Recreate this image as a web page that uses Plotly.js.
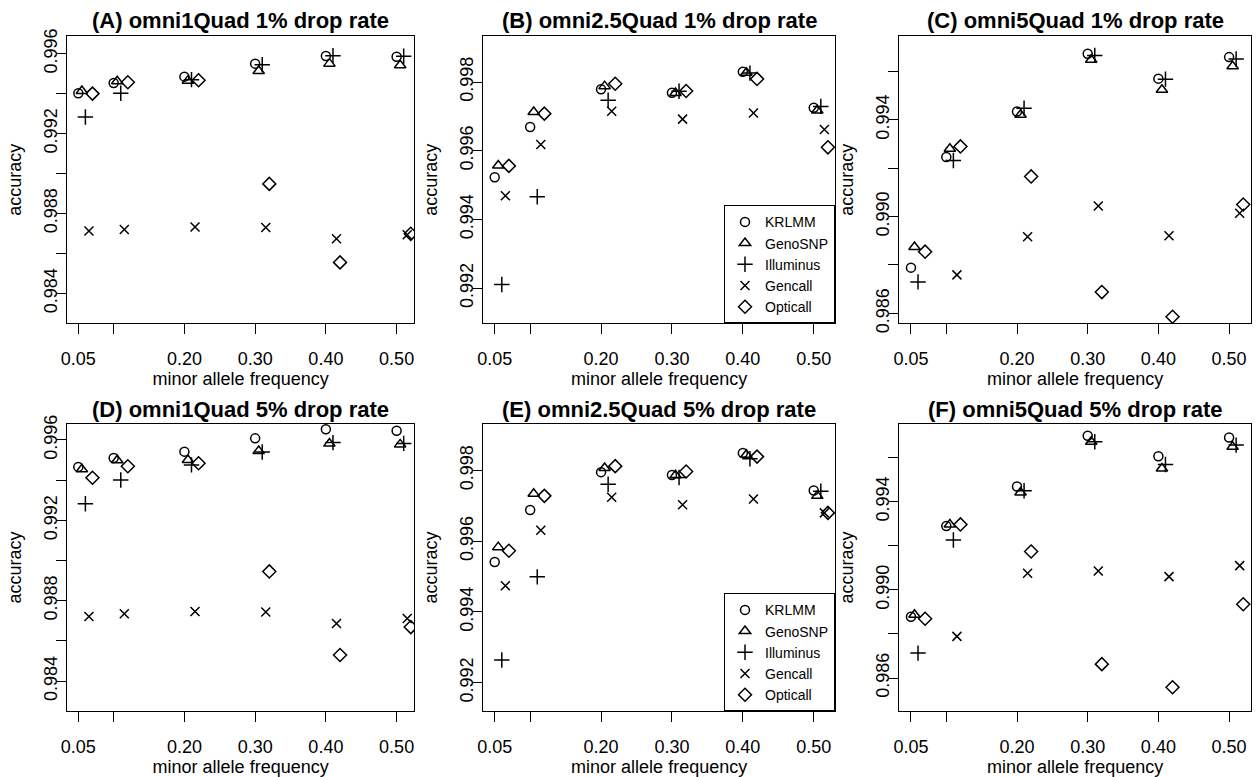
<!DOCTYPE html>
<html>
<head>
<meta charset="utf-8">
<script src="https://cdn.plot.ly/plotly-3.0.1.min.js"></script>
<style>html,body{margin:0;padding:0;background:#fff}#chart{width:1257px;height:777px}</style>
</head>
<body>
<div id="chart"></div>
<script>
// ---- data ----
const maf = [0.05, 0.10, 0.20, 0.30, 0.40, 0.50];
const methods = ["KRLMM", "GenoSNP", "Illuminus", "Gencall", "Opticall"];
const methodOffset = [0, 0.005, 0.010, 0.015, 0.020]; // horizontal jitter used in the original figure
const panelTitles = [
  "(A) omni1Quad 1% drop rate", "(B) omni2.5Quad 1% drop rate", "(C) omni5Quad 1% drop rate",
  "(D) omni1Quad 5% drop rate", "(E) omni2.5Quad 5% drop rate", "(F) omni5Quad 5% drop rate"
];
const xTickVals = [0.05, 0.10, 0.20, 0.30, 0.40, 0.50];
const xTickText = ["0.05", "", "0.20", "0.30", "0.40", "0.50"];

// Panel A: omni1Quad 1%
const A_KRLMM     = [0.99402, 0.99453, 0.99485, 0.99550, 0.99588, 0.99585];
const A_GenoSNP   = [0.99413, 0.99462, 0.99465, 0.99513, 0.99550, 0.99542];
const A_Illuminus = [0.99283, 0.99402, 0.99470, 0.99545, 0.99590, 0.99587];
const A_Gencall   = [0.98712, 0.98720, 0.98732, 0.98730, 0.98673, 0.98693];
const A_Opticall  = [0.99400, 0.99457, 0.99467, 0.98948, 0.98555, 0.98698];
// Panel B: omni2.5Quad 1%
const B_KRLMM     = [0.99523, 0.99669, 0.99779, 0.99769, 0.99830, 0.99725];
const B_GenoSNP   = [0.99557, 0.99713, 0.99788, 0.99768, 0.99827, 0.99717];
const B_Illuminus = [0.99211, 0.99466, 0.99747, 0.99773, 0.99826, 0.99729];
const B_Gencall   = [0.99469, 0.99618, 0.99715, 0.99692, 0.99710, 0.99662];
const B_Opticall  = [0.99556, 0.99708, 0.99795, 0.99774, 0.99809, 0.99610];
// Panel C: omni5Quad 1%
const C_KRLMM     = [0.98789, 0.99246, 0.99434, 0.99673, 0.99570, 0.99659];
const C_GenoSNP   = [0.98874, 0.99280, 0.99421, 0.99648, 0.99524, 0.99621];
const C_Illuminus = [0.98730, 0.99232, 0.99448, 0.99666, 0.99568, 0.99651];
const C_Gencall   = [null,    0.98759, 0.98917, 0.99044, 0.98921, 0.99014];
const C_Opticall  = [0.98855, 0.99290, 0.99166, 0.98688, 0.98586, 0.99050];
// Panel D: omni1Quad 5%
const D_KRLMM     = [0.99466, 0.99510, 0.99542, 0.99608, 0.99653, 0.99646];
const D_GenoSNP   = [0.99454, 0.99499, 0.99500, 0.99545, 0.99582, 0.99578];
const D_Illuminus = [0.99283, 0.99401, 0.99476, 0.99540, 0.99587, 0.99583];
const D_Gencall   = [0.98722, 0.98735, 0.98747, 0.98744, 0.98687, 0.98712];
const D_Opticall  = [0.99412, 0.99469, 0.99484, 0.98946, 0.98530, 0.98669];
// Panel E: omni2.5Quad 5%
const E_KRLMM     = [0.99541, 0.99688, 0.99795, 0.99787, 0.99849, 0.99743];
const E_GenoSNP   = [0.99583, 0.99734, 0.99807, 0.99786, 0.99844, 0.99728];
const E_Illuminus = [0.99264, 0.99499, 0.99761, 0.99780, 0.99833, 0.99741];
const E_Gencall   = [0.99474, 0.99631, 0.99724, 0.99703, 0.99719, 0.99680];
const E_Opticall  = [0.99573, 0.99728, 0.99812, 0.99797, 0.99839, 0.99680];
// Panel F: omni5Quad 5%
const F_KRLMM     = [0.98878, 0.99290, 0.99469, 0.99699, 0.99606, 0.99691];
const F_GenoSNP   = [0.98887, 0.99297, 0.99442, 0.99672, 0.99551, 0.99649];
const F_Illuminus = [0.98713, 0.99226, 0.99450, 0.99672, 0.99569, 0.99657];
const F_Gencall   = [null,    0.98789, 0.99075, 0.99086, 0.99060, 0.99110];
const F_Opticall  = [0.98869, 0.99297, 0.99174, 0.98663, 0.98558, 0.98935];

// y tick sets
const yTicksA = [0.984, 0.986, 0.988, 0.990, 0.992, 0.994, 0.996];
const yTextA  = ["0.984", "", "0.988", "", "0.992", "", "0.996"];
const yTicksB = [0.992, 0.994, 0.996, 0.998];
const yTextB  = ["0.992", "0.994", "0.996", "0.998"];
const yTicksC = [0.986, 0.988, 0.990, 0.992, 0.994, 0.996];
const yTextC  = ["0.986", "", "0.990", "", "0.994", ""];

// ---- build ----
const panelSeries = [
  [A_KRLMM, A_GenoSNP, A_Illuminus, A_Gencall, A_Opticall],
  [B_KRLMM, B_GenoSNP, B_Illuminus, B_Gencall, B_Opticall],
  [C_KRLMM, C_GenoSNP, C_Illuminus, C_Gencall, C_Opticall],
  [D_KRLMM, D_GenoSNP, D_Illuminus, D_Gencall, D_Opticall],
  [E_KRLMM, E_GenoSNP, E_Illuminus, E_Gencall, E_Opticall],
  [F_KRLMM, F_GenoSNP, F_Illuminus, F_Gencall, F_Opticall]
];
const yRanges = [
  [0.9825, 0.99687], [0.99098, 0.99933], [0.98559, 0.99745],
  [0.9825, 0.99681], [0.99119, 0.99932], [0.98449, 0.99754]
];
const xRanges = [[0.034, 0.525], [0.0339, 0.530], [0.0335, 0.531]];
const yTickSets = [[yTicksA, yTextA], [yTicksB, yTextB], [yTicksC, yTextC],
                   [yTicksA, yTextA], [yTicksB, yTextB], [yTicksC, yTextC]];

const W = 1257, H = 777;
const colPx = [[67, 414.3], [483.3, 835], [899.3, 1251]];
const rowPx = [[36.3, 323.3], [423.7, 711.3]];
const titleY = [21, 409];

const symbols = ["circle-open", "triangle-up-open", "cross-thin-open", "x-thin-open", "diamond-open"];
const sizes = [9, 10, 11, 9, 10];
const FONT = "Liberation Sans, Arial, Helvetica, sans-serif";

const traces = [];
const layout = {
  width: W, height: H,
  margin: {l: 0, r: 0, t: 0, b: 0},
  paper_bgcolor: "#ffffff", plot_bgcolor: "#ffffff",
  font: {family: FONT, color: "#000", size: 16},
  showlegend: true,
  annotations: []
};

for (let p = 0; p < 6; p++) {
  const col = p % 3, row = Math.floor(p / 3);
  const n = p === 0 ? "" : String(p + 1);
  const xa = "x" + n, ya = "y" + n;
  const legendName = p === 1 ? "legend" : (p === 4 ? "legend2" : null);
  for (let m = 0; m < 5; m++) {
    const tr = {
      type: "scatter", mode: "markers",
      x: maf.map(v => v + methodOffset[m]),
      y: panelSeries[p][m],
      name: methods[m],
      xaxis: xa, yaxis: ya,
      cliponaxis: true,
      marker: {symbol: symbols[m], size: sizes[m], color: "#000", line: {color: "#000", width: 1.5}},
      showlegend: legendName !== null,
      hoverinfo: "x+y+name"
    };
    if (legendName) tr.legend = legendName;
    traces.push(tr);
  }
  const xd = [colPx[col][0] / W, colPx[col][1] / W];
  const yd = [1 - rowPx[row][1] / H, 1 - rowPx[row][0] / H];
  layout["xaxis" + n] = {
    domain: xd, anchor: ya, range: xRanges[col],
    showgrid: false, zeroline: false,
    showline: true, mirror: true, linecolor: "#000", linewidth: 1,
    ticks: "outside", ticklen: 10, tickwidth: 1, tickcolor: "#000",
    tickmode: "array", tickvals: xTickVals, ticktext: xTickText,
    tickfont: {size: 18, family: FONT, color: "#000"},
    ticklabelstandoff: 9,
    title: {text: "minor allele frequency", font: {size: 18, family: FONT, color: "#000"}, standoff: 2},
    automargin: false
  };
  layout["yaxis" + n] = {
    domain: yd, anchor: xa, range: yRanges[p],
    showgrid: false, zeroline: false,
    showline: true, mirror: true, linecolor: "#000", linewidth: 1,
    ticks: "outside", ticklen: 10, tickwidth: 1, tickcolor: "#000",
    tickmode: "array", tickvals: yTickSets[p][0], ticktext: yTickSets[p][1],
    tickangle: -90,
    tickfont: {size: 18, family: FONT, color: "#000"},
    ticklabelstandoff: -8,
    title: {text: "accuracy", font: {size: 18, family: FONT, color: "#000"}, standoff: 14},
    automargin: false
  };
  layout.annotations.push({
    xref: "paper", yref: "paper",
    x: (xd[0] + xd[1]) / 2, y: 1 - titleY[row] / H,
    xanchor: "center", yanchor: "middle", showarrow: false,
    text: "<b>" + panelTitles[p] + "</b>",
    font: {size: 22, family: FONT, color: "#000"}
  });
}

const legendCommon = {
  bgcolor: "#ffffff", bordercolor: "#000", borderwidth: 1,
  font: {size: 14, family: FONT, color: "#000"},
  xanchor: "right", yanchor: "bottom",
  itemwidth: 30,
  itemclick: false, itemdoubleclick: false
};
layout.legend = Object.assign({}, legendCommon, {x: 835 / W, y: 1 - 323.3 / H});
layout.legend2 = Object.assign({}, legendCommon, {x: 835 / W, y: 1 - 711.3 / H});

Plotly.newPlot("chart", traces, layout, {staticPlot: true, displayModeBar: false});
</script>
</body>
</html>
